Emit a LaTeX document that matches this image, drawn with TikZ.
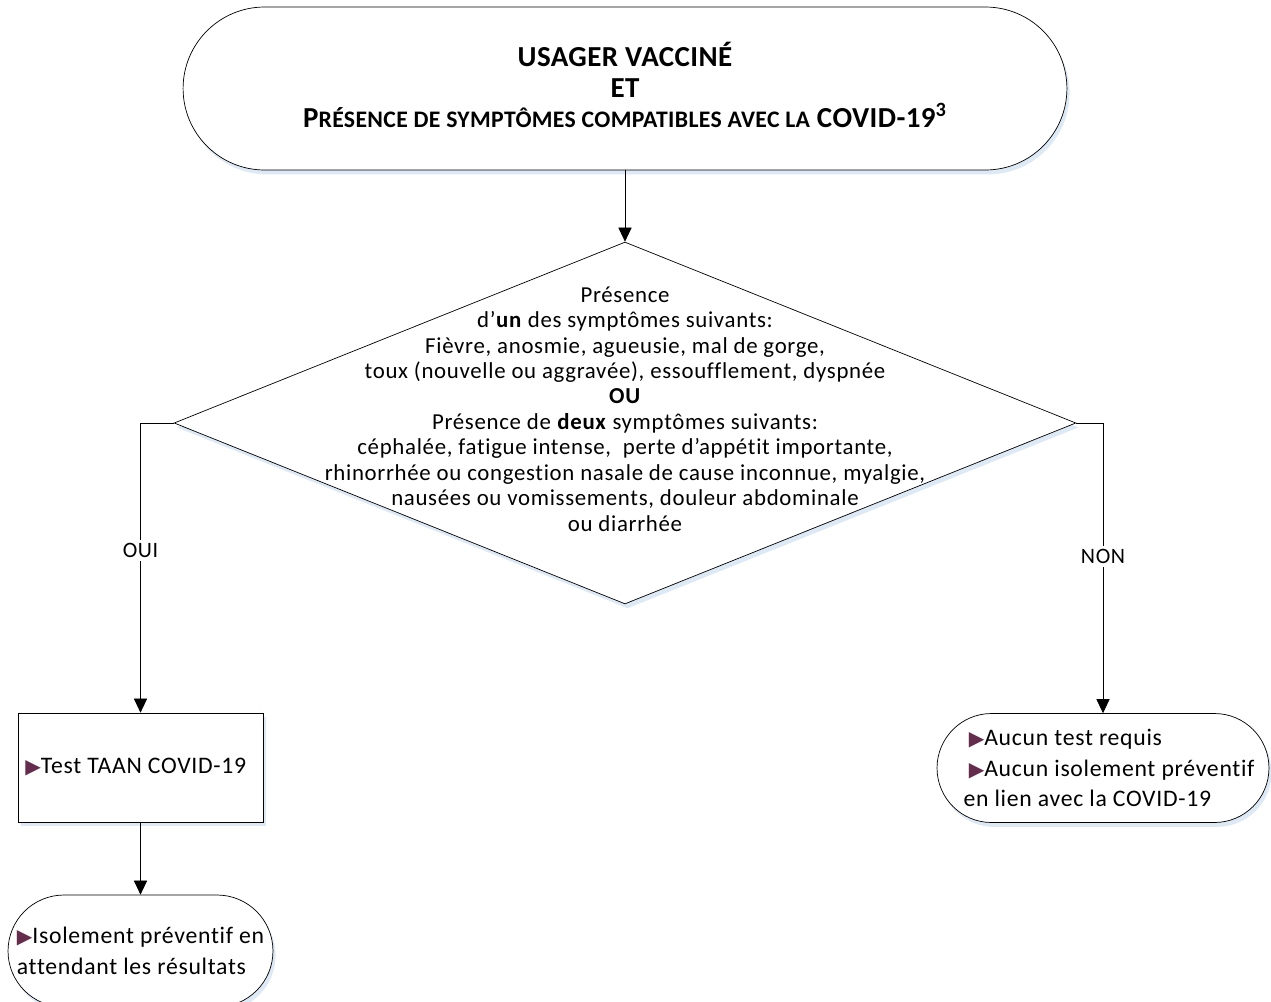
\documentclass[tikz,border=0pt]{standalone}
\usepackage{fontspec}
\setmainfont{Carlito}[LetterSpace=3, Ligatures=NoCommon]
\newfontfamily\dejavu{DejaVu Sans}
\newfontfamily\titlefont{Carlito}[LetterSpace=1.5, Ligatures=NoCommon]
\usetikzlibrary{arrows.meta}
\usetikzlibrary{shapes.geometric,shapes.misc}
\usetikzlibrary{shadows}

\definecolor{bulcol}{RGB}{100,45,78}
\definecolor{shadowcol}{RGB}{200,218,240}
\newcommand{\bul}{{\fontsize{11.5}{10}\selectfont\dejavu\textcolor{bulcol}{▶}}}
\newcommand{\fsc}[1]{{\fontsize{13.5}{17.6}\selectfont #1}}

\tikzset{
 shade/.style={drop shadow={fill=shadowcol, opacity=.6, shadow xshift=1.5pt, shadow yshift=-2.5pt}},
 terminal/.style={rounded rectangle, draw, fill=white, shade, inner sep=0pt},
 decision/.style={diamond, draw, fill=white, shade, inner sep=0pt},
 process/.style={rectangle, draw, fill=white, shade, inner sep=0pt},
 conn/.style={-{Triangle[width=7.5pt,length=8pt]}, black},
 answer/.style={fill=white, inner sep=2pt, font=\fontsize{12.5}{14.5}\selectfont}
}

\begin{document}
\begin{tikzpicture}[x=0.02cm, y=-0.02cm]
\useasboundingbox (0,0) rectangle (1271,1001);
% start
\node[terminal, minimum width=17.68cm, minimum height=3.26cm] (start) at (625,88.5) {};
\node[align=center, font=\titlefont\bfseries\fontsize{16.5}{17.6}\selectfont] (starttxt) at (625,85)
 {USAGER VACCINÉ\\ ET\\ P\fsc{RÉSENCE DE SYMPTÔMES COMPATIBLES AVEC LA} COVID-19\textsuperscript{3}};
% decision
\node[decision, minimum width=18.04cm, minimum height=7.24cm] (symptoms) at (625,423) {};
\node[align=center, font=\fontsize{13}{14.5}\selectfont] (symptomstxt) at (625,409)
 {Présence\\
  d’\textbf{un} des symptômes suivants:\\
  Fièvre, anosmie, agueusie, mal de gorge,\\
  toux (nouvelle ou aggravée), essoufflement, dyspnée\\
  \textbf{OU}\\
  Présence de \textbf{deux} symptômes suivants:\\
  céphalée, fatigue intense,\ \ perte d’appétit importante,\\
  rhinorrhée ou congestion nasale de cause inconnue, myalgie,\\
  nausées ou vomissements, douleur abdominale\\
  ou diarrhée};
% yes branch
\node[process, minimum width=4.9cm, minimum height=2.18cm, align=left,
 font=\fontsize{13.5}{17.5}\selectfont] (test) at (140.5,767.5)
 {\bul Test TAAN COVID-19\hspace{0.4em}};
\node[terminal, minimum width=5.3cm, minimum height=2.24cm, align=left,
 font=\fontsize{13.5}{17.5}\selectfont] (isolation) at (140.5,951)
 {\bul Isolement préventif en\\ attendant les résultats};
% no branch
\node[terminal, minimum width=6.64cm, minimum height=2.18cm] (none) at (1103,768) {};
\node[align=left, font=\fontsize{13.5}{17.5}\selectfont] (nonetxt) at (1109,768)
 {\hspace{3pt}\bul Aucun test requis\\ \hspace{3pt}\bul Aucun isolement préventif\\ en lien avec la COVID-19};

\draw[conn] (start.south) -- (symptoms.north);
\draw[conn] (symptoms.west) -| node[answer, pos=.72] {OUI} (test.north);
\draw[conn] (symptoms.east) -| node[answer, pos=.73] {NON} (none.north);
\draw[conn] (test.south) -- (isolation.north);
\end{tikzpicture}
\end{document}
